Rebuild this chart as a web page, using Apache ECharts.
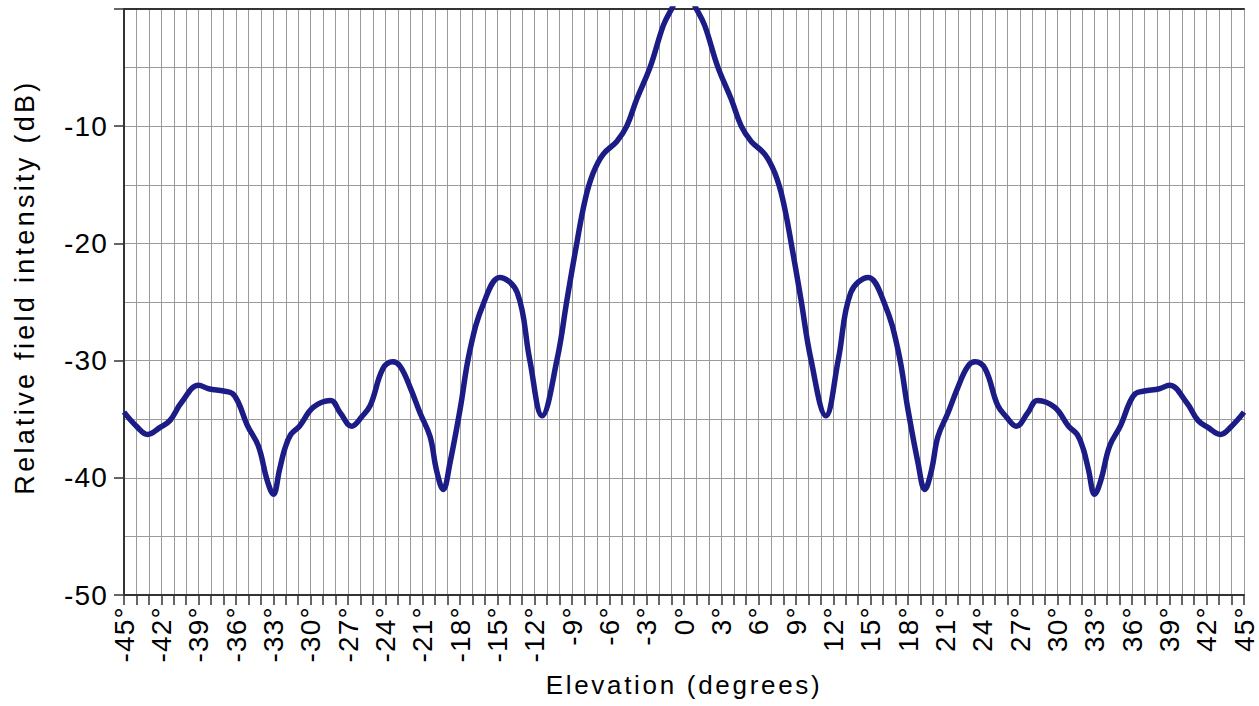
<!DOCTYPE html>
<html><head><meta charset="utf-8">
<script src="https://cdn.jsdelivr.net/npm/echarts/dist/echarts.min.js"></script>
<style>html,body{margin:0;padding:0;background:#fff}#c{width:1259px;height:706px}</style>
</head><body><div id="c"></div>
<script>
// Elevation angles (degrees)
const elevation = [
  -45, -44, -43.1, -42.1, -41.3, -40.4, -39, -38.2, -37, -36.3, -35.8, -35.1, -34.2, -33.5, -33, -32.5,
  -32.1, -31.6, -30.9, -29.8, -28.4, -27.6, -26.7, -25.9, -25.2, -24.2, -23.4, -22.8, -22, -21.2, -20.4,
  -19.9, -19.35, -18.8, -18, -17.2, -16.1, -14.8, -13.4, -12.4, -11.4, -10.2, -9.4, -8.7, -7.95, -7.3,
  -6.5, -5.4, -4.6, -3.8, -2.7, -1.66, -1, 0,
  1, 1.66, 2.7, 3.8, 4.6, 5.4, 6.5, 7.3, 7.95, 8.7, 9.4, 10.2, 11.4, 12.4, 13.4, 14.8, 16.1, 17.2, 18,
  18.8, 19.35, 19.9, 20.4, 21.2, 22, 22.8, 23.4, 24.2, 25.2, 25.9, 26.7, 27.6, 28.4, 29.8, 30.9, 31.6,
  32.1, 32.5, 33, 33.5, 34.2, 35.1, 35.8, 36.3, 37, 38.2, 39, 40.4, 41.3, 42.1, 43.1, 44, 45
];
// Relative field intensity (dB)
const intensity = [
  -34.4, -35.6, -36.3, -35.7, -35.1, -33.6, -32.1, -32.4, -32.6, -32.8, -33.6, -35.5, -37.3, -40.2, -41.4, -39.3,
  -37.6, -36.3, -35.6, -34.0, -33.4, -34.5, -35.6, -34.8, -33.8, -30.7, -30.1, -30.5, -32.3, -34.5, -36.5,
  -39.3, -41.0, -38.7, -34.2, -29.1, -25.1, -22.9, -24.2, -29.9, -34.7, -29.9, -24.8, -20.5, -16.3, -14.0,
  -12.4, -11.3, -10.0, -7.7, -4.9, -1.4, 0, 1.8,
  0, -1.4, -4.9, -7.7, -10.0, -11.3, -12.4, -14.0, -16.3, -20.5, -24.8, -29.9, -34.7, -29.9, -24.2, -22.9, -25.1, -29.1, -34.2,
  -38.7, -41.0, -39.3, -36.5, -34.5, -32.3, -30.5, -30.1, -30.7, -33.8, -34.8, -35.6, -34.5, -33.4, -34.0, -35.6, -36.3,
  -37.6, -39.3, -41.4, -40.2, -37.3, -35.5, -33.6, -32.8, -32.6, -32.4, -32.1, -33.6, -35.1, -35.7, -36.3, -35.6, -34.4
];
const xTitle = 'Elevation (degrees)';
const yTitle = 'Relative field intensity (dB)';

const pairs = elevation.map((x, i) => [x, intensity[i]]);
const font = 'Liberation Sans';
const grid = '#9a9a9a';
const dark = '#333333';

const chart = echarts.init(document.getElementById('c'), null, {renderer: 'svg'});
chart.setOption({
  animation: false,
  backgroundColor: '#ffffff',
  grid: {left: 124, right: 15, top: 9, bottom: 111, containLabel: false},
  xAxis: [{
    type: 'value', min: -45, max: 45, interval: 1, position: 'bottom',
    axisLine: {show: true, onZero: false, lineStyle: {color: dark, width: 2}},
    axisTick: {show: true, length: 10, lineStyle: {color: dark, width: 1.5}},
    splitLine: {show: true, lineStyle: {color: grid, width: 1}},
    axisLabel: {
      rotate: 90, margin: 11, fontSize: 28, fontFamily: font, color: '#000',
      formatter: v => (Math.round(v) % 3 === 0 ? Math.round(v) + '°' : '')
    },
    name: xTitle, nameLocation: 'middle', nameGap: 77,
    nameTextStyle: {fontSize: 26, fontFamily: font, color: '#000'}
  }, {
    type: 'value', min: -45, max: 45, position: 'top',
    axisLine: {show: true, onZero: false, lineStyle: {color: dark, width: 2}},
    axisTick: {show: false}, axisLabel: {show: false}, splitLine: {show: false}
  }],
  yAxis: {
    type: 'value', min: -50, max: 0, interval: 10,
    axisLine: {show: true, onZero: false, lineStyle: {color: dark, width: 2}},
    axisTick: {show: true, length: 10, lineStyle: {color: dark, width: 1.5}},
    minorTick: {show: false, splitNumber: 2},
    splitLine: {show: true, lineStyle: {color: grid, width: 1}},
    minorSplitLine: {show: true, lineStyle: {color: grid, width: 1}},
    axisLabel: {
      margin: 16, fontSize: 28, fontFamily: font, color: '#000',
      formatter: v => (v === 0 ? '' : String(v))
    },
    name: yTitle, nameLocation: 'middle', nameGap: 86,
    nameTextStyle: {fontSize: 27, fontFamily: font, color: '#000', padding: [0, 0, 0, 30]}
  },
  series: [{
    type: 'line', data: pairs, smooth: 0.4, showSymbol: false, clip: true,
    lineStyle: {color: '#1c1c86', width: 5.5}
  }]
});
function spaceText() {
  document.querySelectorAll('#c svg text').forEach(t => {
    const s = t.textContent || '';
    if (s.indexOf('Relative') === 0) t.style.letterSpacing = '3.3px';
    else if (s.indexOf('Elevation') === 0) t.style.letterSpacing = '2.7px';
    else t.style.letterSpacing = '1.2px';
  });
}
chart.on('finished', spaceText);
spaceText();
</script>
</body></html>
